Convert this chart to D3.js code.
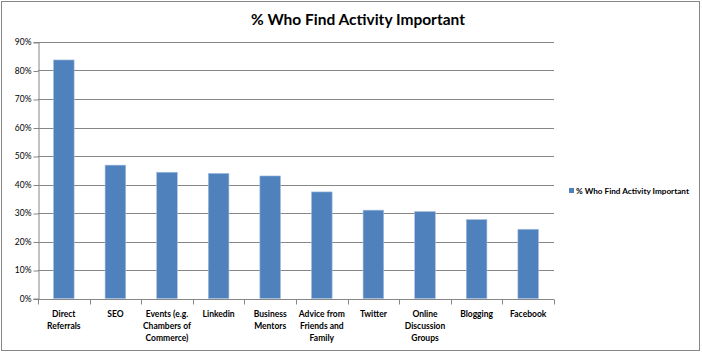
<!DOCTYPE html>
<html><head><meta charset="utf-8">
<script src="https://cdn.jsdelivr.net/npm/d3@7"></script>
<style>body{margin:0;background:#fff}svg{display:block}text{font-family:Lato,"Open Sans",sans-serif}</style>
</head><body><svg id="c" width="702" height="355"></svg>
<script>
const title = "% Who Find Activity Important";
const seriesName = "% Who Find Activity Important";
const categories = ["Direct\nReferrals","SEO","Events (e.g.\nChambers of\nCommerce)","Linkedin","Business\nMentors","Advice from\nFriends and\nFamily","Twitter","Online\nDiscussion\nGroups","Blogging","Facebook"];
const values = [0.837,0.468,0.443,0.439,0.430,0.374,0.310,0.305,0.277,0.243];
const yTicks = [0,0.1,0.2,0.3,0.4,0.5,0.6,0.7,0.8,0.9];

const svg = d3.select("#c");
const L = 38, R = 554, T = 42, B = 298.5;
svg.append("rect").attr("x",1.5).attr("y",1.5).attr("width",698).attr("height",349)
  .attr("fill","#fff").attr("stroke","#868686").attr("stroke-width",1);

const x = d3.scaleBand().domain(categories).range([L,R]).paddingInner(0.6).paddingOuter(0.3);
const y = d3.scaleLinear().domain([0,0.9]).range([B,T]);

// gridlines
svg.append("g").selectAll("line").data(yTicks.filter(d=>d>0)).join("line")
  .attr("x1",L).attr("x2",R).attr("y1",d=>Math.round(y(d))+0.5).attr("y2",d=>Math.round(y(d))+0.5)
  .attr("stroke","#868686").attr("stroke-width",1);

// bars
svg.append("g").selectAll("rect").data(values).join("rect")
  .attr("x",(d,i)=>x(categories[i])).attr("width",x.bandwidth())
  .attr("y",d=>y(d)).attr("height",d=>y(0)-y(d))
  .attr("fill","#4F81BD").attr("stroke","#A7C0DE").attr("stroke-width",0.6);

// y axis
const ya = d3.axisLeft(y).tickValues(yTicks).tickFormat(d3.format(".0%")).tickSize(5).tickPadding(2);
const gy = svg.append("g").attr("transform",`translate(${L+0.5},0)`).call(ya);
gy.selectAll("line").attr("stroke","#868686").attr("transform","translate(0,0.5)");
gy.select(".domain").attr("stroke","#868686");
gy.selectAll("text").attr("font-size",8.5).attr("fill","#000").attr("dy","0.35em");

// x axis
const gx = svg.append("g").attr("transform",`translate(0,${Math.round(B)+0.5})`);
gx.append("line").attr("x1",L).attr("x2",R).attr("stroke","#868686");
const bounds = d3.range(categories.length+1).map(i=>L+i*(R-L)/categories.length);
gx.selectAll("line.t").data(bounds).join("line").attr("class","t")
  .attr("x1",d=>Math.round(d)+0.5).attr("x2",d=>Math.round(d)+0.5).attr("y1",0).attr("y2",5).attr("stroke","#868686");
categories.forEach((c,i)=>{
  const cx = x(c)+x.bandwidth()/2;
  const t = gx.append("text").attr("x",cx).attr("y",17).attr("text-anchor","middle")
    .attr("font-size",8.5).attr("font-weight","bold").attr("fill","#000");
  c.split("\n").forEach((ln,j)=>t.append("tspan").attr("x",cx).attr("dy",j?12:0).text(ln));
});

// title
svg.append("text").attr("x",358).attr("y",25).attr("text-anchor","middle")
  .attr("font-size",15.5).attr("font-weight","bold").attr("fill","#000").text(title);

// legend
svg.append("rect").attr("x",569).attr("y",188).attr("width",5).attr("height",5).attr("fill","#4F81BD");
svg.append("text").attr("x",576).attr("y",193.5).attr("font-size",8.2).attr("font-weight","bold").attr("fill","#000").text(seriesName);
</script></body></html>
